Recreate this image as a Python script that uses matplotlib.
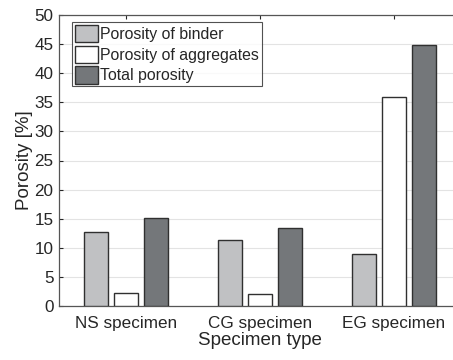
import matplotlib.pyplot as plt
import numpy as np

plt.rcParams['font.family'] = ['Liberation Sans', 'DejaVu Sans']

# data
specimens = ['NS specimen', 'CG specimen', 'EG specimen']
binder = [12.7, 11.4, 9.0]
aggregates = [2.3, 2.0, 35.9]
total = [15.1, 13.4, 44.9]
series_names = ['Porosity of binder', 'Porosity of aggregates', 'Total porosity']

fig = plt.figure(figsize=(4.53, 3.6), dpi=100)
ax = fig.add_axes([59 / 453, 54 / 360, 402 / 453, 291 / 360])

x = np.arange(1, len(specimens) + 1)
w = 0.18
off = 0.222
text_col = '#262626'
kw = dict(width=w, edgecolor='#303030', linewidth=1.0, zorder=3)
ax.bar(x - off, binder, color='#c0c1c3', label=series_names[0], **kw)
ax.bar(x, aggregates, color='#ffffff', label=series_names[1], **kw)
ax.bar(x + off, total, color='#74777a', label=series_names[2], **kw)

ax.set_xlim(0.5, 3.5)
ax.set_ylim(0, 50)
ax.set_yticks(np.arange(0, 51, 5))
ax.set_xticks(x)
ax.set_xticklabels(specimens)
ax.yaxis.grid(True, color='#e3e3e3', linewidth=0.8, zorder=0)
ax.set_axisbelow(True)

ax.tick_params(direction='in', length=3, width=0.8, colors=text_col,
               labelsize=12.3, top=True, right=True)
ax.tick_params(axis='x', pad=7)
ax.tick_params(axis='y', pad=4)
for s in ax.spines.values():
    s.set_color('#555555')
    s.set_linewidth(0.9)

ax.set_ylabel('Porosity [%]', fontsize=13.5, color=text_col, labelpad=1)
ax.set_xlabel('Specimen type', fontsize=13.5, color=text_col, labelpad=1)

leg = ax.legend(loc='upper left', bbox_to_anchor=(0.032, 0.976), fontsize=11.4,
                frameon=True, fancybox=False, edgecolor='#262626',
                handlelength=1.5, handleheight=1.3, handletextpad=0.1,
                labelspacing=0.22, borderpad=0.18, borderaxespad=0)
leg.get_frame().set_linewidth(0.8)
for t in leg.get_texts():
    t.set_color(text_col)

plt.savefig('out.png', dpi=100)
